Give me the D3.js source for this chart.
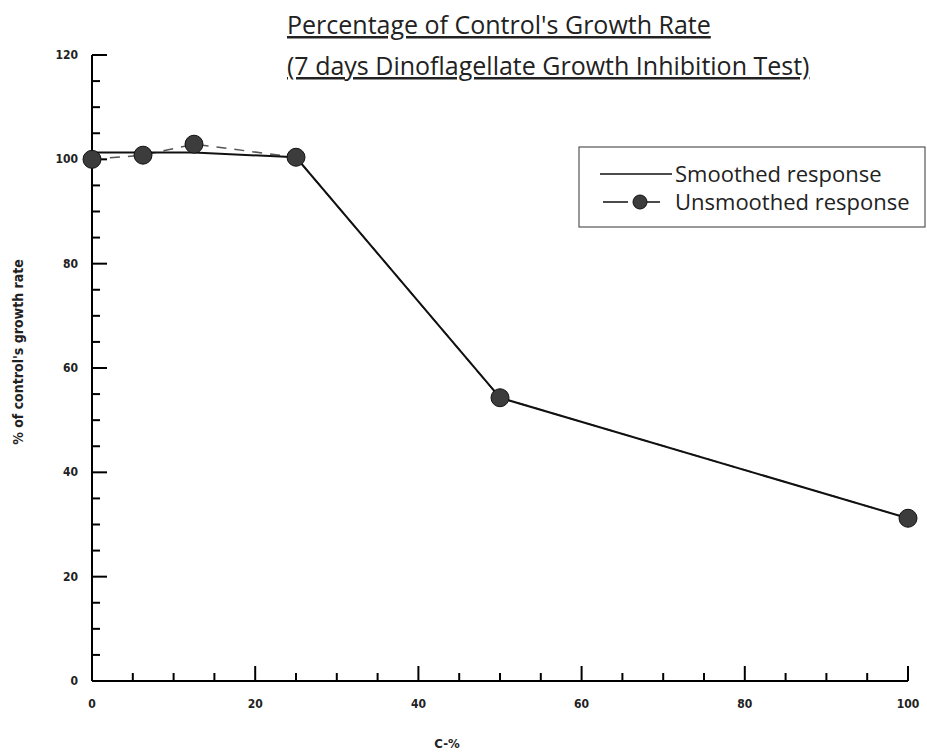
<!DOCTYPE html>
<html><head><meta charset="utf-8">
<script src="https://cdn.jsdelivr.net/npm/d3@7"></script>
<style>body{margin:0;background:#fff}</style>
</head><body>
<svg id="c" width="927" height="752"></svg>
<script>
const concentrations = [0, 6.25, 12.5, 25, 50, 100];
const unsmoothed = [100, 100.8, 102.9, 100.4, 54.3, 31.2];
const smoothed = [101.3, 101.3, 101.3, 100.4, 54.3, 31.2];
const xTicks = [0, 20, 40, 60, 80, 100];
const yTicks = [0, 20, 40, 60, 80, 100, 120];
const titleLines = ["Percentage of Control's Growth Rate", "(7 days Dinoflagellate Growth Inhibition Test)"];
const legendLabels = ["Smoothed response", "Unsmoothed response"];

const svg = d3.select("#c");
const x = d3.scaleLinear().domain([0, 100]).range([92, 908]);
const y = d3.scaleLinear().domain([0, 120]).range([681, 55]);
const tickFont = "'DejaVu Sans Condensed','DejaVu Sans',sans-serif";

const minor = d3.range(0, 101, 5).filter(v => v % 20 !== 0);
const minorY = d3.range(0, 121, 5).filter(v => v % 20 !== 0);

// x axis
const gx = svg.append("g").attr("transform", "translate(0,681)");
gx.append("line").attr("x1", x(0)).attr("x2", x(100)).attr("stroke", "#000").attr("stroke-width", 2);
gx.selectAll(".mj").data(xTicks).join("line").attr("x1", d => x(d)).attr("x2", d => x(d))
  .attr("y1", 0).attr("y2", -15).attr("stroke", "#000").attr("stroke-width", 2);
gx.selectAll(".mn").data(minor).join("line").attr("x1", d => x(d)).attr("x2", d => x(d))
  .attr("y1", 0).attr("y2", -8).attr("stroke", "#000").attr("stroke-width", 2);
gx.selectAll("text").data(xTicks).join("text").attr("x", d => x(d)).attr("y", 27)
  .attr("text-anchor", "middle").attr("font-family", tickFont).attr("font-size", 12)
  .attr("font-weight", "bold").attr("fill", "#222").text(d => d);

// y axis
const gy = svg.append("g").attr("transform", "translate(92,0)");
gy.append("line").attr("y1", y(0)).attr("y2", y(120)).attr("stroke", "#000").attr("stroke-width", 2);
gy.selectAll(".mj").data(yTicks).join("line").attr("y1", d => y(d)).attr("y2", d => y(d))
  .attr("x1", 0).attr("x2", 15).attr("stroke", "#000").attr("stroke-width", 2);
gy.selectAll(".mn").data(minorY).join("line").attr("y1", d => y(d)).attr("y2", d => y(d))
  .attr("x1", 0).attr("x2", 8).attr("stroke", "#000").attr("stroke-width", 2);
gy.selectAll("text").data(yTicks).join("text").attr("x", -14).attr("y", d => y(d) + 4)
  .attr("text-anchor", "end").attr("font-family", tickFont).attr("font-size", 12)
  .attr("font-weight", "bold").attr("fill", "#222").text(d => d);

// axis titles
svg.append("text").attr("transform", "translate(23,352) rotate(-90)").attr("text-anchor", "middle")
  .attr("font-family", tickFont).attr("font-size", 14).attr("font-weight", "bold").attr("fill", "#222")
  .text("% of control's growth rate");
svg.append("text").attr("x", 447).attr("y", 748).attr("text-anchor", "middle")
  .attr("font-family", tickFont).attr("font-size", 13).attr("font-weight", "bold").attr("fill", "#222").text("C-%");

// lines
const pts = concentrations.map((c, i) => ({c, u: unsmoothed[i], s: smoothed[i]}));
svg.append("path").datum(pts).attr("fill", "none").attr("stroke", "#555").attr("stroke-width", 1.5)
  .attr("stroke-dasharray", "10,8").attr("d", d3.line().x(d => x(d.c)).y(d => y(d.u)));
svg.append("path").datum(pts).attr("fill", "none").attr("stroke", "#111").attr("stroke-width", 2)
  .attr("d", d3.line().x(d => x(d.c)).y(d => y(d.s)));
svg.selectAll(".pt").data(pts).join("circle").attr("cx", d => x(d.c)).attr("cy", d => y(d.u))
  .attr("r", 9).attr("fill", "#3c3c3c").attr("stroke", "#111").attr("stroke-width", 1);

// title
const tf = "'Open Sans','Noto Sans',sans-serif";
svg.selectAll(".title").data(titleLines).join("text").attr("x", 287)
  .attr("y", (d, i) => 34 + i * 41).attr("font-family", tf).attr("font-size", 25)
  .attr("text-decoration", "underline").attr("fill", "#222").text(d => d);

// legend
const lg = svg.append("g");
lg.append("rect").attr("x", 579).attr("y", 147).attr("width", 346).attr("height", 80)
  .attr("fill", "#fff").attr("stroke", "#555").attr("stroke-width", 1.2);
lg.append("line").attr("x1", 600).attr("x2", 672).attr("y1", 174).attr("y2", 174).attr("stroke", "#111").attr("stroke-width", 1.5);
lg.append("line").attr("x1", 603).attr("x2", 662).attr("y1", 202).attr("y2", 202).attr("stroke", "#111").attr("stroke-width", 1.5)
  .attr("stroke-dasharray", "25,9,0,10,13");
lg.append("circle").attr("cx", 640).attr("cy", 202).attr("r", 7).attr("fill", "#3c3c3c").attr("stroke", "#111");
lg.selectAll("text").data(legendLabels).join("text").attr("x", 675).attr("y", (d, i) => 182 + i * 28)
  .attr("font-family", tf).attr("font-size", 22).attr("fill", "#222").text(d => d);
</script>
</body></html>
